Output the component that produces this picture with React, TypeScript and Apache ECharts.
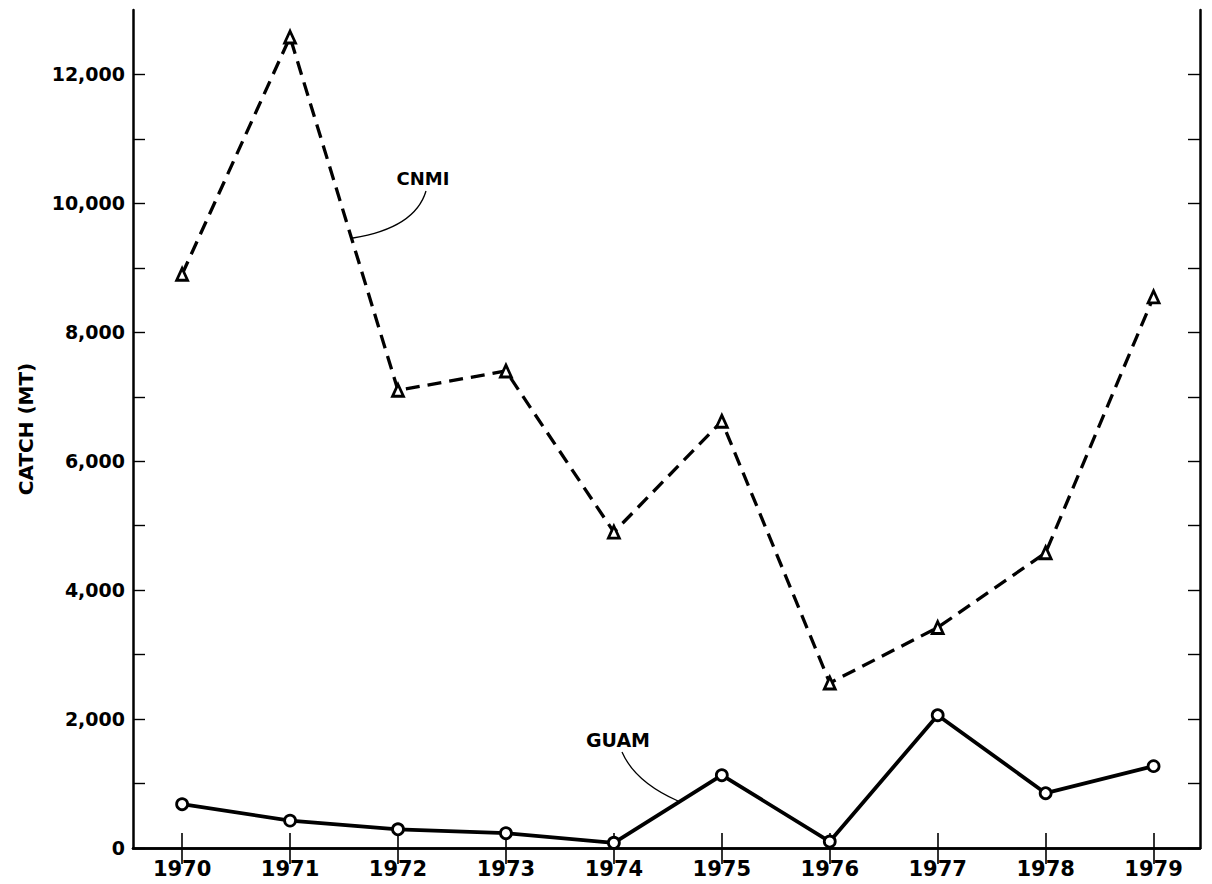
import React, { useEffect, useRef } from "react";
import * as echarts from "echarts";

const years = [1970, 1971, 1972, 1973, 1974, 1975, 1976, 1977, 1978, 1979];
const cnmiCatch = [8900, 12580, 7100, 7400, 4900, 6620, 2560, 3420, 4580, 8550];
const guamCatch = [680, 425, 290, 230, 80, 1130, 100, 2060, 850, 1270];
const yLabelValues = [0, 2000, 4000, 6000, 8000, 10000, 12000];
const yTickValues = [0, 1000, 2000, 3000, 4000, 5000, 6000, 7000, 8000, 9000, 10000, 11000, 12000];

const FONT = "'DejaVu Sans', 'Liberation Sans', Arial, sans-serif";

export default function App() {
  const ref = useRef<HTMLDivElement>(null);

  useEffect(() => {
    const chart = echarts.init(ref.current!, null, { renderer: "svg" });
    const axisLine = { show: true, lineStyle: { color: "#000", width: 2.5 } };
    const xBase = {
      type: "value",
      min: 1969.545,
      max: 1979.43,
      splitLine: { show: false },
      axisLine,
    };
    const yBase = {
      type: "value",
      min: 0,
      max: 13000,
      splitLine: { show: false },
      axisLine,
    };
    chart.setOption({
      animation: false,
      backgroundColor: "#fff",
      grid: { left: 133, right: 12, top: 10, bottom: 36, containLabel: false, outerBoundsMode: "none" },
      xAxis: [
        {
          ...xBase,
          position: "bottom",
          axisTick: { show: true, inside: true, length: 15, customValues: years, lineStyle: { color: "#000", width: 1.6 } },
          axisLabel: {
            show: true,
            customValues: years,
            margin: 10,
            color: "#000",
            fontFamily: FONT,
            fontWeight: "bold",
            fontSize: 21,
            formatter: (v: number) => String(Math.round(v)),
          },
        },
        {
          ...xBase,
          position: "top",
          axisTick: { show: true, inside: true, length: 16, customValues: years, lineStyle: { color: "#000", width: 1.6 } },
          axisLabel: { show: false },
        },
      ],
      yAxis: [
        {
          ...yBase,
          position: "left",
          name: "CATCH (MT)",
          nameLocation: "middle",
          nameRotate: 90,
          nameGap: 97,
          nameTextStyle: { color: "#000", fontFamily: FONT, fontWeight: "bold", fontSize: 20 },
          axisTick: { show: true, inside: true, length: 12, customValues: yTickValues, lineStyle: { color: "#000", width: 1.4 } },
          axisLabel: {
            show: true,
            customValues: yLabelValues,
            margin: 8,
            color: "#000",
            fontFamily: FONT,
            fontWeight: "bold",
            fontSize: 19,
            formatter: (v: number) => v.toLocaleString("en-US"),
          },
        },
        {
          ...yBase,
          position: "right",
          axisTick: { show: true, inside: true, length: 12, customValues: yTickValues, lineStyle: { color: "#000", width: 1.4 } },
          axisLabel: { show: false },
        },
      ],
      series: [
        {
          name: "CNMI",
          type: "line",
          xAxisIndex: 0,
          yAxisIndex: 0,
          data: years.map((y, i) => [y, cnmiCatch[i]]),
          symbol: "triangle",
          symbolSize: [11, 12],
          showAllSymbol: true,
          lineStyle: { color: "#000", width: 3.3, type: [14, 8] },
          itemStyle: { color: "#fff", borderColor: "#000", borderWidth: 2.8 },
          z: 3,
        },
        {
          name: "GUAM",
          type: "line",
          xAxisIndex: 0,
          yAxisIndex: 0,
          data: years.map((y, i) => [y, guamCatch[i]]),
          symbol: "circle",
          symbolSize: 11,
          showAllSymbol: true,
          lineStyle: { color: "#000", width: 3.8 },
          itemStyle: { color: "#fff", borderColor: "#000", borderWidth: 2.8 },
          z: 3,
        },
      ],
      graphic: [
        {
          type: "text",
          x: 423,
          y: 178,
          style: { text: "CNMI", fill: "#000", font: `bold 18px ${FONT}`, align: "center", verticalAlign: "middle" },
        },
        {
          type: "bezierCurve",
          shape: { x1: 426, y1: 191, cpx1: 415, cpy1: 228, x2: 353, y2: 238 },
          style: { stroke: "#000", lineWidth: 1.3, fill: "none" },
        },
        {
          type: "text",
          x: 618,
          y: 740,
          style: { text: "GUAM", fill: "#000", font: `bold 19px ${FONT}`, align: "center", verticalAlign: "middle" },
        },
        {
          type: "bezierCurve",
          shape: { x1: 622, y1: 752, cpx1: 635, cpy1: 782, x2: 678, y2: 801 },
          style: { stroke: "#000", lineWidth: 1.3, fill: "none" },
        },
      ],
    });
    return () => chart.dispose();
  }, []);

  return (
    <div
      ref={ref}
      style={{ position: "fixed", left: 0, top: 0, width: 1212, height: 884, background: "#fff" }}
    />
  );
}
